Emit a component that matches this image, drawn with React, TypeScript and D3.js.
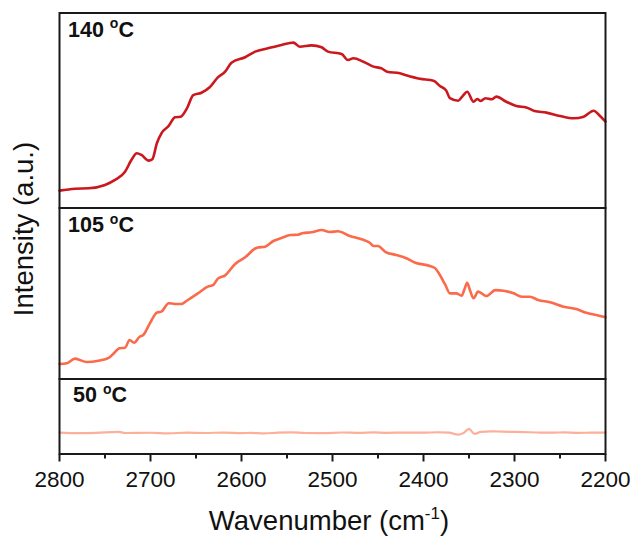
import React from "react";
import * as d3 from "d3";

// Wavenumber (cm^-1) and relative intensity (a.u.) for each temperature
const wn140 = [2800, 2783, 2768, 2750, 2739, 2728, 2721, 2715, 2710, 2702, 2698, 2693, 2688, 2680, 2673, 2667, 2660, 2653, 2644, 2635, 2626, 2618, 2611, 2596, 2585, 2571, 2556, 2543, 2536, 2523, 2512, 2505, 2490, 2483, 2477, 2466, 2455, 2446, 2440, 2426, 2419, 2404, 2389, 2382, 2375, 2371, 2362, 2357, 2352, 2345, 2341, 2337, 2332, 2325, 2320, 2309, 2298, 2287, 2278, 2265, 2250, 2235, 2224, 2213, 2206, 2200];
const int140 = [8.9, 9.9, 10.1, 11.8, 14.4, 18.6, 24.6, 28.1, 27.2, 24.3, 25.0, 33.2, 38.3, 42.1, 46.5, 46.8, 51.1, 57.9, 59.1, 61.9, 67.0, 69.9, 74.5, 77.3, 80.2, 81.9, 83.6, 84.8, 82.7, 83.4, 82.4, 80.2, 79.0, 75.9, 76.8, 75.0, 72.5, 71.6, 69.9, 69.1, 68.1, 66.3, 65.3, 62.6, 60.2, 56.3, 55.0, 57.4, 59.6, 54.5, 55.9, 54.9, 56.3, 55.8, 57.1, 54.5, 52.3, 51.6, 49.7, 48.9, 47.2, 46.0, 46.8, 49.9, 47.2, 44.3];

const wn105 = [2800, 2792, 2783, 2770, 2757, 2746, 2741, 2734, 2728, 2723, 2718, 2712, 2708, 2701, 2693, 2688, 2680, 2673, 2666, 2659, 2648, 2637, 2631, 2626, 2618, 2607, 2596, 2583, 2574, 2565, 2556, 2546, 2538, 2532, 2523, 2512, 2503, 2494, 2481, 2468, 2459, 2455, 2450, 2442, 2430, 2419, 2409, 2393, 2387, 2382, 2376, 2371, 2364, 2358, 2355, 2352, 2349, 2345, 2340, 2331, 2321, 2312, 2301, 2292, 2283, 2274, 2261, 2246, 2232, 2221, 2210, 2200];
const int105 = [8.8, 9.2, 11.9, 9.9, 10.7, 12.3, 14.6, 18.0, 18.3, 22.8, 21.2, 24.7, 25.7, 32.2, 38.8, 39.4, 44.3, 43.9, 43.9, 46.2, 50.1, 54.0, 55.0, 58.7, 60.6, 67.3, 71.2, 76.8, 77.4, 80.7, 82.5, 84.2, 84.4, 85.4, 85.8, 87.1, 86.0, 86.4, 83.6, 81.7, 79.7, 77.8, 77.8, 74.4, 72.5, 70.6, 68.0, 66.1, 64.7, 60.8, 55.0, 50.1, 50.1, 48.7, 52.5, 56.3, 52.0, 47.2, 51.1, 48.5, 52.0, 51.6, 50.1, 48.1, 48.1, 46.2, 44.9, 42.3, 40.9, 38.7, 37.4, 36.1];

const wn50 = [2800, 2780, 2760, 2735, 2728, 2700, 2680, 2660, 2640, 2620, 2600, 2590, 2575, 2560, 2545, 2530, 2510, 2490, 2470, 2455, 2440, 2420, 2400, 2385, 2372, 2362, 2356, 2350, 2344, 2337, 2326, 2318, 2305, 2290, 2275, 2260, 2245, 2230, 2215, 2200];
const int50 = [28.5, 27.8, 28.2, 29.5, 28.0, 28.3, 27.6, 28.4, 28.0, 28.6, 27.9, 28.1, 27.4, 28.5, 28.9, 28.0, 27.8, 28.7, 28.2, 28.9, 28.3, 28.6, 28.4, 29.0, 28.5, 25.8, 28.0, 33.6, 26.9, 29.4, 30.3, 30.0, 29.6, 29.2, 28.7, 28.4, 28.9, 28.1, 28.5, 28.5];

const panelLabels = ["140", "105", "50"];
const xTicks = [2800, 2700, 2600, 2500, 2400, 2300, 2200];
const xMinorTicks = [2750, 2650, 2550, 2450, 2350, 2250];

const W = 638;
const H = 541;
const left = 59.5;
const right = 605.5;
const panelTops = [13, 208, 379];
const panelBottoms = [208, 379, 454];
const colors = ["#cb181d", "#fb6a4a", "#fcb09a"];
const widths = [2.6, 2.6, 2.2];
const labelPos = [
  { x: 68, y: 36.5 },
  { x: 68, y: 232 },
  { x: 73, y: 402 },
];

const FONT = "'Liberation Sans', Arial, Helvetica, sans-serif";
const frameColor = "#1a1a1a";

export default function App() {
  const x = d3.scaleLinear().domain([2800, 2200]).range([left, right]);
  const series = [
    { wn: wn140, v: int140 },
    { wn: wn105, v: int105 },
    { wn: wn50, v: int50 },
  ];

  return (
    <svg width={W} height={H} style={{ display: "block", position: "absolute", left: 0, top: 0 }}>
      <rect x={0} y={0} width={W} height={H} fill="#fff" />
      {series.map((s, i) => {
        const y = d3.scaleLinear().domain([0, 100]).range([panelBottoms[i], panelTops[i]]);
        const line = d3
          .line<number>()
          .x((_, k) => x(s.wn[k]))
          .y((d) => y(d))
          .curve(d3.curveMonotoneX);
        return (
          <g key={i}>
            <path
              d={line(s.v) || ""}
              fill="none"
              stroke={colors[i]}
              strokeWidth={widths[i]}
              strokeLinejoin="round"
              strokeLinecap="round"
            />
            <text
              x={labelPos[i].x}
              y={labelPos[i].y}
              fontFamily={FONT}
              fontWeight="bold"
              fontSize={21.5}
              fill="#111"
            >
              {panelLabels[i] + " "}
              <tspan fontSize={14} dy={-8.5}>o</tspan>
              <tspan dy={8.5}>C</tspan>
            </text>
          </g>
        );
      })}

      {/* frames */}
      {panelTops.map((t, i) => (
        <rect
          key={"f" + i}
          x={left}
          y={t}
          width={right - left}
          height={panelBottoms[i] - t}
          fill="none"
          stroke={frameColor}
          strokeWidth={2}
        />
      ))}

      {/* bottom axis ticks */}
      {xTicks.map((t) => (
        <line key={"M" + t} x1={x(t)} x2={x(t)} y1={454} y2={461.5} stroke={frameColor} strokeWidth={2} />
      ))}
      {xMinorTicks.map((t) => (
        <line key={"m" + t} x1={x(t)} x2={x(t)} y1={454} y2={458.5} stroke={frameColor} strokeWidth={2} />
      ))}
      {xTicks.map((t) => (
        <text
          key={"l" + t}
          x={x(t)}
          y={486.5}
          textAnchor="middle"
          fontFamily={FONT}
          fontSize={22.5}
          fill="#111"
        >
          {t}
        </text>
      ))}

      <text x={329} y={530} textAnchor="middle" fontFamily={FONT} fontSize={27.5} fill="#111">
        Wavenumber (cm
        <tspan fontSize={17} dy={-11}>-1</tspan>
        <tspan dy={11}>)</tspan>
      </text>

      <text
        transform={`translate(33, 229) rotate(-90)`}
        textAnchor="middle"
        fontFamily={FONT}
        fontSize={27.5}
        fill="#111"
      >
        Intensity (a.u.)
      </text>
    </svg>
  );
}
